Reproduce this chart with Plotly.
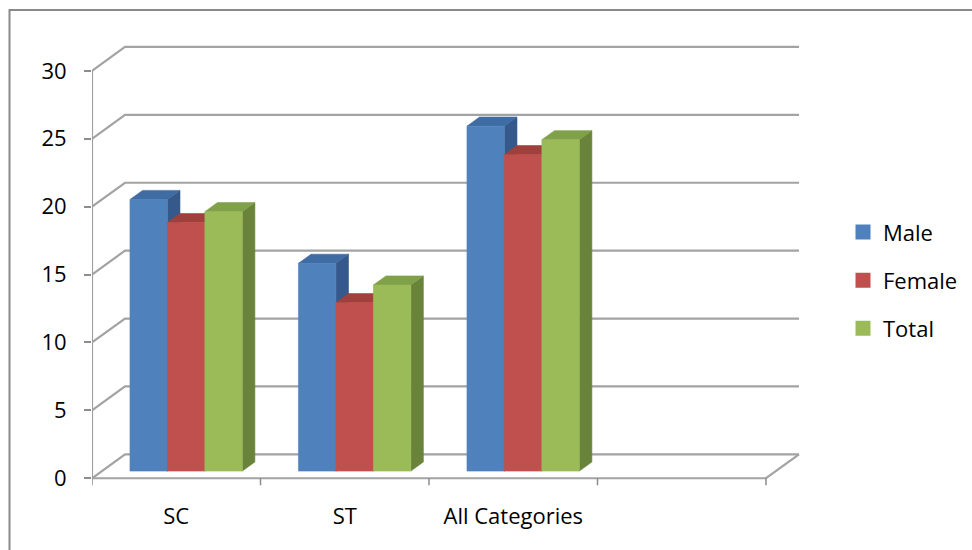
import plotly.graph_objects as go

# ---------------- data ----------------
categories = ["SC", "ST", "All Categories"]
series_names = ["Male", "Female", "Total"]
male = [20.0, 15.3, 25.4]
female = [18.3, 12.4, 23.3]
total = [19.1, 13.7, 24.4]
y_ticks = [0, 5, 10, 15, 20, 25, 30]

# ---------------- style / geometry ----------------
front_colors = ["#4F81BD", "#C0504D", "#9BBB59"]
top_colors = ["#3F6CA3", "#A0403D", "#80A04A"]
side_colors = ["#34598A", "#8B3634", "#6A833A"]
GRID = "#A3A3A3"
FONT = "Open Sans"

W, H = 972, 550
PX_X0, PX_X1 = 92, 800          # plot area left / right (pixels)
PX_Y0, PX_Y1 = 40, 492          # plot area top / bottom (pixels)
PX_ZERO = 480                   # pixel row of value 0 on the front plane
PX_PER_VAL = 13.63
N_SLOTS = 4                     # category slots on the axis (last one empty)
PX_PER_CAT = 168.5
DX = 33 / PX_PER_CAT            # depth offset, x units
DY = 24 / PX_PER_VAL            # depth offset, y units
GAP = 1.5                       # gap width (in bar widths)
F0, F1 = 0.30, 0.68             # bar front/back depth fractions

xr = [-0.5, -0.5 + (PX_X1 - PX_X0) / PX_PER_CAT]
yr = [-(PX_Y1 - PX_ZERO) / PX_PER_VAL, (PX_ZERO - PX_Y0) / PX_PER_VAL]

fig = go.Figure()

def poly(xs, ys, color):
    fig.add_trace(go.Scatter(
        x=xs + [xs[0]], y=ys + [ys[0]], mode="lines", fill="toself",
        fillcolor=color, line=dict(color=color, width=0.6),
        hoverinfo="skip", showlegend=False))

def line(xs, ys, color=GRID, width=2.2):
    fig.add_trace(go.Scatter(
        x=xs, y=ys, mode="lines", line=dict(color=color, width=width),
        hoverinfo="skip", showlegend=False, cliponaxis=False))

x_left = -0.5
x_right = -0.5 + N_SLOTS

# walls: gridlines on left wall + back wall
for v in y_ticks:
    line([x_left, x_left + DX, x_right + DX], [v, v + DY, v + DY])
# floor front edge and right edge
line([x_left, x_right, x_right + DX], [0, 0, DY])
# value axis line
line([x_left, x_left], [0, y_ticks[-1]], color="#A0A0A0")
# category tick marks
for k in range(N_SLOTS + 1):
    line([x_left + k, x_left + k], [0, -7 / PX_PER_VAL], color="#8C8C8C", width=1.5)

# bars
values = [male, female, total]
w = 1.0 / (len(series_names) + GAP)
for i, cat in enumerate(categories):
    for j, vals in enumerate(values):
        v = vals[i]
        x0 = i - 1.5 * w + j * w
        x1 = x0 + w
        fx0, fx1 = x0 + F0 * DX, x1 + F0 * DX
        bx0, bx1 = x0 + F1 * DX, x1 + F1 * DX
        fb, bb = F0 * DY, F1 * DY
        # side
        poly([fx1, bx1, bx1, fx1], [fb, bb, v + bb, v + fb], side_colors[j])
        # top
        poly([fx0, fx1, bx1, bx0], [v + fb, v + fb, v + bb, v + bb], top_colors[j])
        # front
        poly([fx0, fx1, fx1, fx0], [fb, fb, v + fb, v + fb], front_colors[j])

# legend entries
for j, name in enumerate(series_names):
    fig.add_trace(go.Scatter(
        x=[None], y=[None], mode="markers", name=name, legendgroup=name,
        marker=dict(symbol="square", size=15, color=front_colors[j]),
        hoverinfo="skip"))

fig.update_layout(
    width=W, height=H,
    margin=dict(l=0, r=0, t=0, b=0),
    paper_bgcolor="white", plot_bgcolor="rgba(0,0,0,0)",
    font=dict(family=FONT, size=22, color="black"),
    xaxis=dict(
        domain=[PX_X0 / W, PX_X1 / W], range=xr,
        tickvals=list(range(len(categories))), ticktext=categories,
        ticks="", showgrid=False, zeroline=False, showline=False,
        ticklabelstandoff=11, fixedrange=True),
    yaxis=dict(
        domain=[1 - PX_Y1 / H, 1 - PX_Y0 / H], range=yr,
        tickvals=y_ticks, ticks="outside", ticklen=7, tickwidth=1.5,
        tickcolor="#8C8C8C", showgrid=False, zeroline=False, showline=False,
        ticklabelstandoff=13, fixedrange=True),
    legend=dict(
        x=843 / W, y=1 - 212 / H, xanchor="left", yanchor="top",
        font=dict(family=FONT, size=22), tracegroupgap=16.5,
        traceorder="grouped", bgcolor="rgba(0,0,0,0)"),
    shapes=[dict(type="rect", xref="paper", yref="paper",
                 x0=9.5 / W, y0=-0.05, x1=1.05, y1=1 - 10 / H,
                 line=dict(color="#8A8A8A", width=2))],
    showlegend=True,
)

fig.write_html("out.html")
